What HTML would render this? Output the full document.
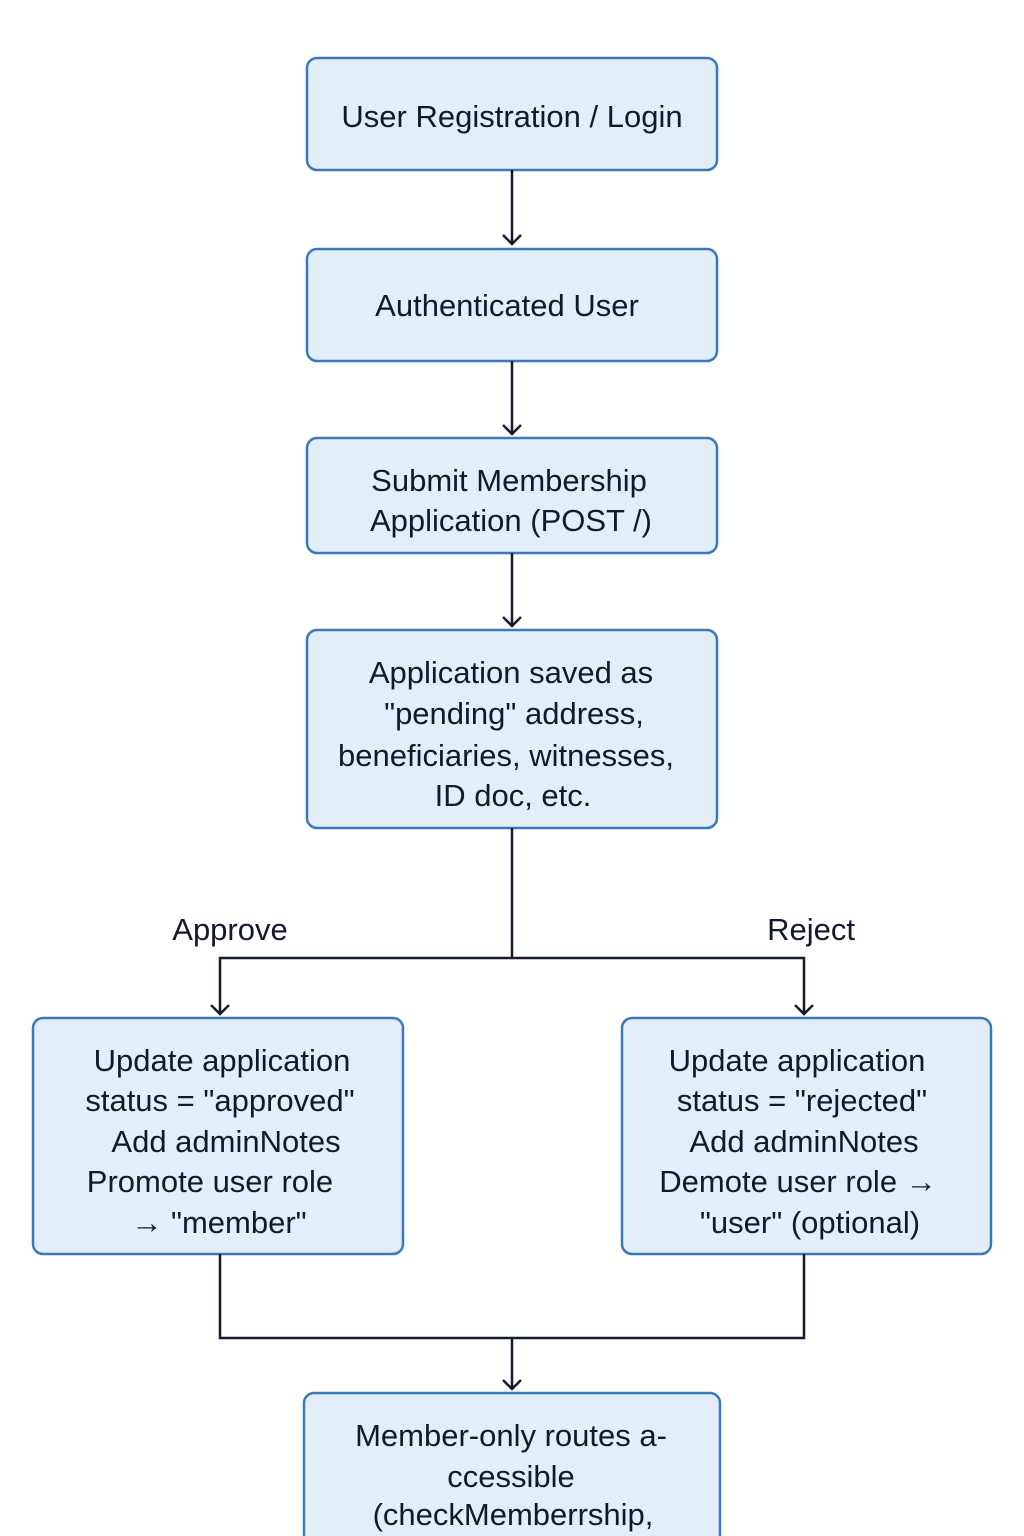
<!DOCTYPE html>
<html><head><meta charset="utf-8"><style>
html,body{margin:0;padding:0;background:#fff;}
svg{display:block;}
text{font-family:"Liberation Sans",sans-serif;font-size:31px;fill:#111a2c;text-anchor:middle;}
.b{fill:#e3eef9;stroke:#3a78c0;stroke-width:2.5;}
.l{stroke:#111a2c;stroke-width:2.5;fill:none;}
</style></head><body>
<svg width="1024" height="1536" viewBox="0 0 1024 1536">
<rect x="307" y="58" width="410" height="112" rx="10" class="b"/>
<rect x="307" y="249" width="410" height="112" rx="10" class="b"/>
<rect x="307" y="438" width="410" height="115" rx="10" class="b"/>
<rect x="307" y="630" width="410" height="198" rx="10" class="b"/>
<rect x="33" y="1018" width="370" height="236" rx="10" class="b"/>
<rect x="622" y="1018" width="369" height="236" rx="10" class="b"/>
<rect x="304" y="1393" width="416" height="170" rx="10" class="b"/>

<path class="l" d="M512 170V244M503 235l9 9 9-9"/>
<path class="l" d="M512 361V434M503 425l9 9 9-9"/>
<path class="l" d="M512 553V626M503 617l9 9 9-9"/>
<path class="l" d="M512 828V958M220 1014V958H804V1014M211 1005l9 9 9-9M795 1005l9 9 9-9"/>
<path class="l" d="M220 1254V1338H804V1254M512 1338V1389M503 1380l9 9 9-9"/>

<text x="512" y="127">User Registration / Login</text>
<text x="507" y="316">Authenticated User</text>
<text x="509" y="491">Submit Membership</text>
<text x="511" y="531">Application (POST /)</text>
<text x="511" y="683">Application saved as</text>
<text x="514" y="724">"pending" address,</text>
<text x="506" y="766">beneficiaries, witnesses,</text>
<text x="513" y="806">ID doc, etc.</text>
<text x="230" y="940">Approve</text>
<text x="811" y="940">Reject</text>
<text x="222" y="1071">Update application</text>
<text x="220" y="1111">status = "approved"</text>
<text x="226" y="1152">Add adminNotes</text>
<text x="210" y="1192">Promote user role</text>
<text x="219" y="1233">→ "member"</text>
<text x="797" y="1071">Update application</text>
<text x="802" y="1111">status = "rejected"</text>
<text x="804" y="1152">Add adminNotes</text>
<text x="798" y="1192">Demote user role →</text>
<text x="810" y="1233">"user" (optional)</text>
<text x="511" y="1446">Member-only routes a-</text>
<text x="511" y="1487">ccessible</text>
<text x="513" y="1525">(checkMemberrship,</text>
</svg>
</body></html>
